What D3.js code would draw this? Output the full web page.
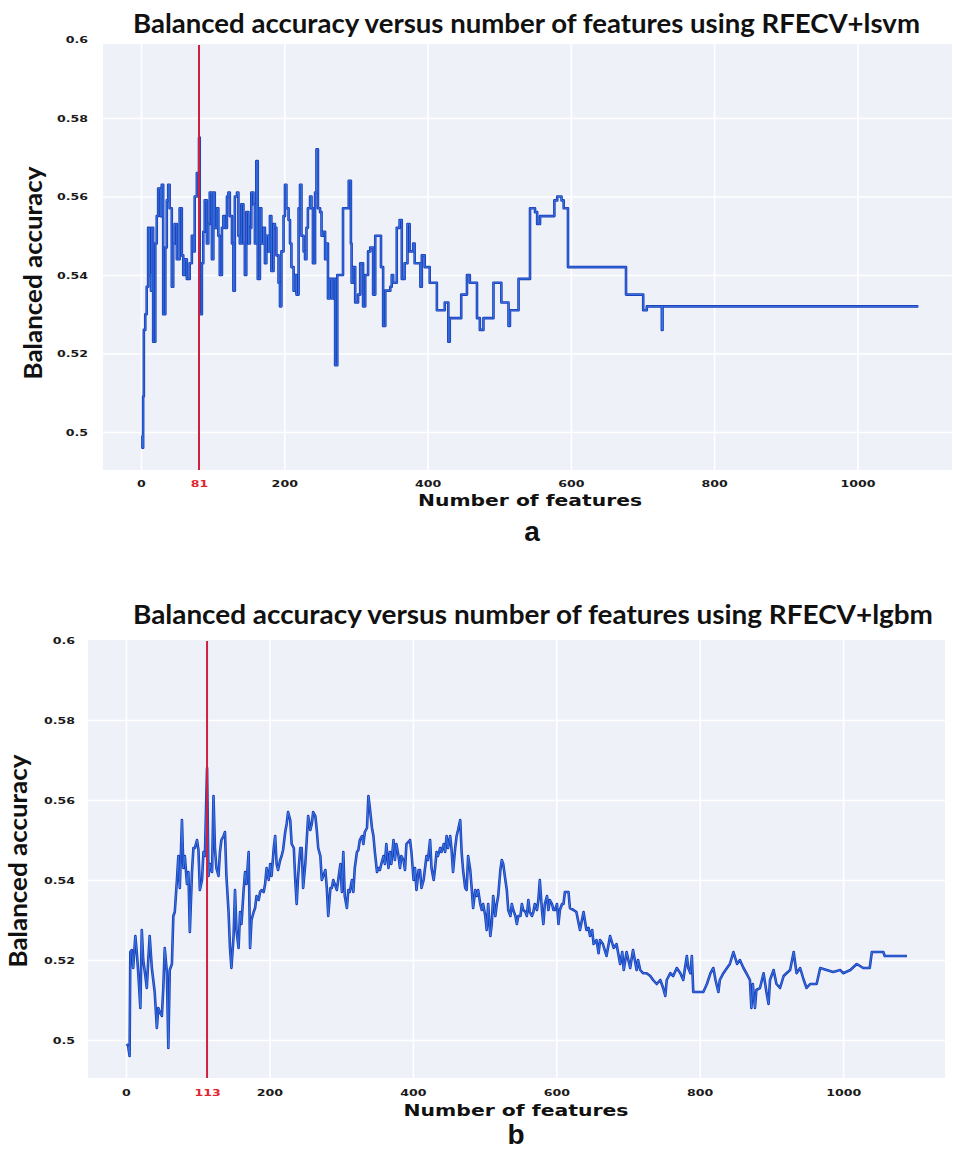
<!DOCTYPE html>
<html>
<head>
<meta charset="utf-8">
<script src="https://cdn.jsdelivr.net/npm/d3@7"></script>
<style>
  html, body { margin: 0; padding: 0; background: #ffffff; }
  svg { display: block; }
</style>
</head>
<body>
<svg id="fig" width="953" height="1151"></svg>
<script>
// ---- Panel a: RFECV + linear SVM (cross-validated balanced accuracy per feature count)
const featuresA = [1,2,3,4,6,8,10,12,14,15,17,20,22,24,27,29,31,34,36,38,40,43,45,47,50,54,57,59,61,64,68,71,73,75,78,81,82,85,87,89,92,94,96,99,101,103,106,108,110,113,115,117,120,122,124,127,129,131,134,136,138,140,143,145,147,150,152,154,157,159,161,163,166,168,171,173,175,178,180,182,185,187,189,192,194,196,199,201,203,206,208,210,213,215,217,220,222,224,227,229,231,233,236,238,240,243,245,247,250,252,254,257,259,261,263,266,268,271,274,279,282,287,290,293,294,296,299,303,306,310,313,317,320,324,327,334,335,338,341,348,350,352,357,361,364,368,372,375,380,382,390,392,396,403,413,424,429,431,447,455,459,469,473,478,490,492,503,513,515,527,543,550,553,557,575,577,581,587,590,596,677,701,706,727,728,1085];
const accuracyA = [0.499,0.496,0.509,0.526,0.530,0.537,0.552,0.540,0.536,0.552,0.523,0.548,0.555,0.562,0.555,0.563,0.530,0.547,0.559,0.563,0.557,0.537,0.548,0.553,0.544,0.557,0.545,0.540,0.544,0.539,0.543,0.550,0.546,0.560,0.566,0.575,0.530,0.543,0.551,0.559,0.548,0.553,0.561,0.544,0.561,0.552,0.557,0.550,0.540,0.552,0.555,0.552,0.560,0.561,0.555,0.548,0.536,0.560,0.561,0.550,0.548,0.558,0.548,0.540,0.556,0.548,0.552,0.561,0.558,0.548,0.569,0.539,0.557,0.548,0.552,0.543,0.550,0.546,0.555,0.541,0.553,0.552,0.545,0.538,0.532,0.546,0.555,0.563,0.557,0.554,0.548,0.542,0.536,0.540,0.535,0.557,0.563,0.550,0.546,0.544,0.552,0.557,0.560,0.557,0.543,0.561,0.572,0.557,0.556,0.550,0.551,0.544,0.548,0.534,0.539,0.534,0.539,0.517,0.540,0.540,0.557,0.557,0.564,0.548,0.538,0.542,0.533,0.535,0.543,0.532,0.540,0.546,0.547,0.535,0.550,0.550,0.542,0.527,0.536,0.537,0.540,0.538,0.552,0.554,0.539,0.543,0.553,0.546,0.548,0.543,0.537,0.545,0.542,0.538,0.531,0.533,0.523,0.529,0.535,0.540,0.538,0.529,0.526,0.529,0.529,0.538,0.533,0.527,0.531,0.539,0.557,0.556,0.553,0.555,0.555,0.559,0.560,0.559,0.557,0.542,0.535,0.531,0.532,0.526,0.532,0.532];
const bestA = 81;

// ---- Panel b: RFECV + LightGBM
const featuresB = [1,3,5,6,8,10,13,15,17,20,22,24,27,29,31,33,36,38,40,43,45,47,50,52,54,57,59,61,64,66,68,71,73,75,78,80,82,85,87,89,92,94,96,99,101,103,106,108,110,113,115,117,120,122,124,126,129,131,133,136,138,140,143,145,147,150,152,154,157,159,161,164,166,168,171,173,175,178,180,182,185,187,189,192,194,196,199,201,203,206,208,210,212,215,217,219,222,224,226,229,231,234,236,238,240,243,245,247,250,252,254,257,259,261,264,266,268,271,273,275,278,280,282,285,287,289,294,299,301,303,305,308,310,312,315,317,319,322,324,326,329,331,333,336,338,340,343,345,347,350,352,354,356,359,361,363,366,368,370,373,375,377,380,382,384,387,389,391,396,398,401,403,405,408,410,412,415,417,419,421,424,426,429,431,433,435,438,440,443,445,447,449,452,454,456,459,461,463,466,468,470,473,475,477,480,482,484,487,489,491,494,496,498,501,503,505,508,510,512,515,517,519,522,524,526,529,531,533,536,538,540,543,545,547,550,552,554,557,559,561,563,566,568,570,573,575,577,580,582,584,587,589,591,594,596,598,601,603,605,608,610,612,617,619,624,628,633,638,642,645,647,650,652,656,659,661,665,670,675,680,684,689,692,694,698,703,707,712,714,717,721,726,731,735,740,745,749,752,754,759,763,768,773,777,782,784,787,789,791,796,800,805,810,815,819,822,826,828,833,838,842,847,852,856,861,865,870,872,874,877,879,884,889,893,896,898,903,907,912,917,921,926,931,935,940,945,949,954,963,968,977,986,996,1000,1010,1019,1028,1037,1040,1056,1058,1089];
const accuracyB = [0.499,0.4985,0.496,0.522,0.5225,0.518,0.526,0.522,0.517,0.508,0.5275,0.520,0.516,0.513,0.520,0.526,0.518,0.515,0.512,0.503,0.508,0.507,0.506,0.513,0.523,0.517,0.498,0.5175,0.519,0.531,0.532,0.540,0.546,0.538,0.555,0.543,0.546,0.539,0.542,0.527,0.542,0.548,0.548,0.550,0.5475,0.5375,0.540,0.547,0.546,0.568,0.541,0.544,0.542,0.561,0.548,0.543,0.541,0.547,0.550,0.551,0.552,0.541,0.532,0.523,0.518,0.526,0.5375,0.5275,0.523,0.532,0.529,0.5375,0.542,0.539,0.547,0.523,0.530,0.532,0.533,0.536,0.535,0.537,0.5375,0.537,0.539,0.543,0.540,0.544,0.541,0.548,0.551,0.544,0.5425,0.545,0.546,0.5475,0.552,0.554,0.557,0.555,0.549,0.548,0.540,0.534,0.541,0.548,0.548,0.538,0.544,0.550,0.556,0.5525,0.554,0.557,0.556,0.5525,0.548,0.546,0.540,0.541,0.5425,0.538,0.531,0.538,0.538,0.540,0.5375,0.544,0.537,0.547,0.536,0.533,0.5375,0.537,0.540,0.537,0.543,0.547,0.5475,0.550,0.551,0.549,0.552,0.553,0.561,0.558,0.553,0.551,0.547,0.542,0.543,0.5425,0.544,0.546,0.544,0.549,0.543,0.547,0.544,0.550,0.545,0.549,0.546,0.543,0.546,0.545,0.5425,0.549,0.550,0.547,0.540,0.543,0.5375,0.5425,0.5425,0.538,0.540,0.543,0.546,0.545,0.550,0.543,0.540,0.543,0.547,0.546,0.548,0.547,0.549,0.547,0.551,0.548,0.551,0.5475,0.542,0.548,0.551,0.5525,0.555,0.547,0.5425,0.538,0.5375,0.546,0.5425,0.538,0.533,0.5375,0.536,0.5375,0.534,0.5325,0.534,0.531,0.5275,0.534,0.526,0.529,0.536,0.531,0.534,0.536,0.5425,0.545,0.544,0.540,0.5375,0.5325,0.531,0.534,0.5325,0.531,0.529,0.531,0.531,0.534,0.5325,0.532,0.531,0.535,0.532,0.531,0.532,0.534,0.5325,0.535,0.540,0.5325,0.529,0.534,0.536,0.5325,0.535,0.534,0.5325,0.5325,0.534,0.529,0.5325,0.534,0.534,0.537,0.537,0.533,0.5325,0.532,0.5275,0.532,0.5275,0.528,0.526,0.5275,0.524,0.525,0.5217,0.525,0.524,0.521,0.526,0.523,0.524,0.519,0.522,0.5175,0.522,0.518,0.5225,0.5175,0.520,0.5175,0.5167,0.5167,0.516,0.515,0.514,0.515,0.513,0.511,0.515,0.5167,0.516,0.518,0.5167,0.515,0.521,0.518,0.5167,0.521,0.512,0.512,0.512,0.512,0.514,0.5167,0.518,0.515,0.512,0.515,0.5167,0.518,0.519,0.522,0.519,0.520,0.518,0.5167,0.515,0.508,0.514,0.508,0.5125,0.513,0.5167,0.512,0.509,0.515,0.5175,0.514,0.513,0.516,0.5167,0.5175,0.522,0.5167,0.518,0.515,0.513,0.514,0.514,0.518,0.5175,0.517,0.5175,0.5167,0.5175,0.519,0.518,0.518,0.522,0.522,0.521,0.521];
const bestB = 113;

// ---- Shared axis ticks and labels
const xTicks = [0, 200, 400, 600, 800, 1000];
const yTicks = [0.5, 0.52, 0.54, 0.56, 0.58, 0.6];
const titleA = "Balanced accuracy versus number of features using RFECV+lsvm";
const titleB = "Balanced accuracy versus number of features using RFECV+lgbm";
const yTitle = "Balanced accuracy";
const xTitle = "Number of features";

const svg = d3.select("#fig");
const TICK_SX = 1.4; // wide tick lettering

function drawPanel(cfg) {
  const g = svg.append("g");
  const x = d3.scaleLinear().domain(cfg.xDomain).range([cfg.left, cfg.right]);
  const y = d3.scaleLinear().domain(cfg.yDomain).range([cfg.bottom, cfg.yTop]);

  // plot background
  g.append("rect")
    .attr("x", cfg.left).attr("y", cfg.bgTop)
    .attr("width", cfg.right - cfg.left).attr("height", cfg.bottom - cfg.bgTop)
    .attr("fill", "#eff1f9");

  // horizontal grid
  const gy = g.append("g").attr("transform", `translate(${cfg.left},0)`)
    .call(d3.axisLeft(y).tickValues(yTicks.filter(v => y(v) > cfg.bgTop + 1))
      .tickSize(-(cfg.right - cfg.left)).tickFormat(""));
  gy.select(".domain").remove();
  gy.selectAll("line").attr("stroke", "#ffffff").attr("stroke-width", 1.6);

  // vertical grid
  const gx = g.append("g").attr("transform", `translate(0,${cfg.bottom})`)
    .call(d3.axisBottom(x).tickValues(xTicks)
      .tickSize(-(cfg.bottom - cfg.bgTop)).tickFormat(""));
  gx.select(".domain").remove();
  gx.selectAll("line").attr("stroke", "#ffffff").attr("stroke-width", 1.6);

  // y tick labels
  const ay = g.append("g").attr("transform", `translate(${cfg.left},0)`)
    .call(d3.axisLeft(y).tickValues(yTicks).tickSize(0)
      .tickFormat(d => String(+d.toFixed(2))));
  ay.select(".domain").remove();
  ay.selectAll("text")
    .attr("x", -cfg.yLabelGap / TICK_SX)
    .attr("dy", "0.35em")
    .attr("transform", `scale(${TICK_SX},1)`)
    .attr("font-family", "DejaVu Sans").attr("font-weight", "bold")
    .attr("font-size", 9).attr("fill", "#1a1a1a");

  // x tick labels, including the selected feature count
  const xVals = xTicks.concat([cfg.best]).sort((a, b) => a - b);
  const ax = g.append("g").attr("transform", `translate(0,${cfg.bottom})`)
    .call(d3.axisBottom(x).tickValues(xVals).tickSize(0).tickFormat(d3.format("d")));
  ax.select(".domain").remove();
  ax.selectAll("text")
    .attr("y", cfg.xLabelGap).attr("dy", "0.35em").attr("x", 0)
    .attr("transform", `scale(${TICK_SX},1)`)
    .attr("font-family", "DejaVu Sans").attr("font-weight", "bold")
    .attr("font-size", 9)
    .attr("fill", d => d === cfg.best ? "#e0262f" : "#1a1a1a");

  // accuracy curve: dark body with a lighter core
  const pts = cfg.features.map((f, i) => [f, cfg.values[i]]);
  const line = d3.line().x(d => x(d[0])).y(d => y(d[1])).curve(cfg.curve);
  g.append("path").datum(pts).attr("d", line)
    .attr("fill", "none").attr("stroke", "#1a3cba").attr("stroke-width", 2.6)
    .attr("stroke-linejoin", "round");
  g.append("path").datum(pts).attr("d", line)
    .attr("fill", "none").attr("stroke", "#3f86e8").attr("stroke-width", 0.9)
    .attr("stroke-opacity", 0.85).attr("stroke-linejoin", "round");

  // selected number of features
  g.append("line")
    .attr("x1", x(cfg.best)).attr("x2", x(cfg.best))
    .attr("y1", cfg.bgTop + 1).attr("y2", cfg.bottom)
    .attr("stroke", "#d0203f").attr("stroke-width", 2);

  // titles
  g.append("text")
    .attr("x", cfg.title.x).attr("y", cfg.title.y)
    .attr("textLength", cfg.title.len).attr("lengthAdjust", "spacingAndGlyphs")
    .attr("font-family", "Lato").attr("font-weight", "bold").attr("font-size", 26)
    .attr("fill", "#111").text(cfg.title.text);

  g.append("text")
    .attr("transform", `translate(${cfg.yTitle.x},${cfg.yTitle.y}) rotate(-90)`)
    .attr("text-anchor", "middle")
    .attr("textLength", 213).attr("lengthAdjust", "spacingAndGlyphs")
    .attr("font-family", "Lato").attr("font-weight", "bold").attr("font-size", 24)
    .attr("fill", "#111").text(yTitle);

  g.append("text")
    .attr("x", cfg.xTitle.x).attr("y", cfg.xTitle.y)
    .attr("text-anchor", "middle")
    .attr("textLength", cfg.xTitle.len).attr("lengthAdjust", "spacingAndGlyphs")
    .attr("font-family", "DejaVu Sans").attr("font-weight", "bold").attr("font-size", 16)
    .attr("fill", "#111").text(xTitle);

  g.append("text")
    .attr("x", cfg.letter.x).attr("y", cfg.letter.y)
    .attr("text-anchor", "middle")
    .attr("font-family", "Liberation Sans").attr("font-weight", "bold").attr("font-size", 28)
    .attr("fill", "#111").text(cfg.letter.text);
}

drawPanel({
  features: featuresA, values: accuracyA, best: bestA, curve: d3.curveStepAfter,
  xDomain: [-53, 1132], yDomain: [0.4903, 0.6],
  left: 103, right: 952, bottom: 470, yTop: 39.5, bgTop: 44,
  yLabelGap: 15, xLabelGap: 14,
  title: { text: titleA, x: 133, y: 33, len: 787 },
  yTitle: { x: 42, y: 273 },
  xTitle: { x: 530, y: 506, len: 224 },
  letter: { text: "a", x: 532, y: 541 }
});

drawPanel({
  features: featuresB, values: accuracyB, best: bestB, curve: d3.curveLinear,
  xDomain: [-53, 1142], yDomain: [0.4905, 0.6],
  left: 88, right: 945, bottom: 1078, yTop: 640, bgTop: 640,
  yLabelGap: 13, xLabelGap: 15,
  title: { text: titleB, x: 133, y: 624, len: 800 },
  yTitle: { x: 27, y: 861 },
  xTitle: { x: 516, y: 1116, len: 225 },
  letter: { text: "b", x: 516, y: 1144 }
});
</script>
</body>
</html>
